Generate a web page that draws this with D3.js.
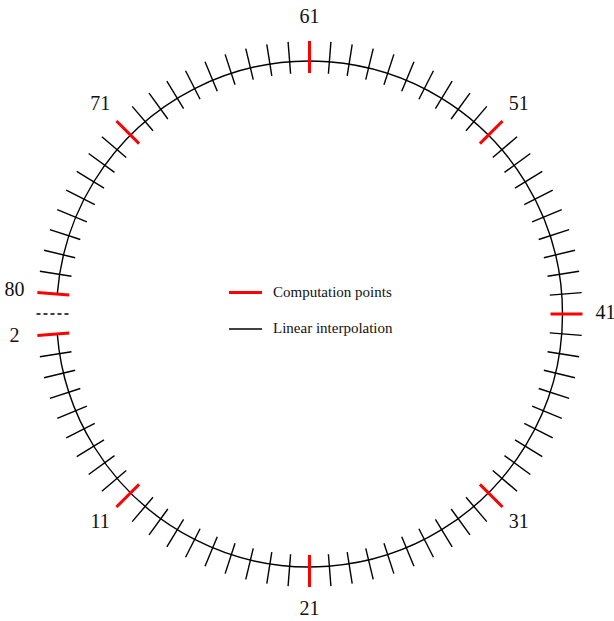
<!DOCTYPE html>
<html>
<head>
<meta charset="utf-8">
<script src="https://cdn.jsdelivr.net/npm/d3@7"></script>
<style>
  html, body { margin: 0; padding: 0; background: #fff; }
  svg { display: block; }
</style>
</head>
<body>
<svg id="chart" width="614" height="621"></svg>
<script>
// Points around the ring (point 1 is the cut, shown dashed)
const allPoints = [2,3,4,5,6,7,8,9,10,11,12,13,14,15,16,17,18,19,20,21,22,23,24,25,26,27,28,29,30,31,32,33,34,35,36,37,38,39,40,41,42,43,44,45,46,47,48,49,50,51,52,53,54,55,56,57,58,59,60,61,62,63,64,65,66,67,68,69,70,71,72,73,74,75,76,77,78,79,80];
const computationPoints = [2, 11, 21, 31, 41, 51, 61, 71, 80];
const labelPoints = [2, 11, 21, 31, 41, 51, 61, 71, 80];
const cutPoint = [1];
const legendItems = ["Computation points", "Linear interpolation"];

const svg = d3.select("#chart");
const cx = 309.5, cy = 314, R = 253;
const tickIn = 12, tickOut = 20;

// angle scale: point 1 at left, increasing counter-clockwise on screen (bottom -> right -> top)
const angle = d3.scaleLinear().domain([1, 81]).range([Math.PI, -Math.PI]);

// ring arc from point 2 to point 80 passing through bottom, right, top
const p = d3.path();
p.arc(cx, cy, R, angle(2), angle(80), true);
svg.append("path").attr("d", p.toString())
  .attr("fill", "none").attr("stroke", "#000").attr("stroke-width", 1.4);

const interp = allPoints.filter(k => !computationPoints.includes(k));

function tick(sel) {
  sel.attr("x1", k => cx + (R - tickIn) * Math.cos(angle(k)))
     .attr("y1", k => cy + (R - tickIn) * Math.sin(angle(k)))
     .attr("x2", k => cx + (R + tickOut) * Math.cos(angle(k)))
     .attr("y2", k => cy + (R + tickOut) * Math.sin(angle(k)));
}

svg.append("g").selectAll("line").data(interp).join("line")
  .call(tick).attr("stroke", "#000").attr("stroke-width", 1.4);

svg.append("g").selectAll("line").data(cutPoint).join("line")
  .call(tick).attr("stroke", "#000").attr("stroke-width", 1.4)
  .attr("stroke-dasharray", "4,3");

svg.append("g").selectAll("line").data(computationPoints).join("line")
  .call(tick).attr("stroke", "#ff0000").attr("stroke-width", 3);

const labR = 296;
svg.append("g").selectAll("text").data(labelPoints).join("text")
  .attr("x", k => cx + labR * Math.cos(angle(k)))
  .attr("y", k => cy + labR * Math.sin(angle(k)) - 2)
  .attr("text-anchor", "middle")
  .attr("dominant-baseline", "central")
  .attr("font-family", "'Liberation Serif', 'Times New Roman', serif")
  .attr("font-size", 20)
  .attr("fill", "#111")
  .text(k => k);

// legend
const legend = svg.append("g");
const legColors = ["#ff0000", "#000"];
const legWidths = [3, 1.5];
const legY = [292.5, 329];
legendItems.forEach((t, i) => {
  legend.append("line").attr("x1", 229).attr("x2", 262)
    .attr("y1", legY[i]).attr("y2", legY[i])
    .attr("stroke", legColors[i]).attr("stroke-width", legWidths[i]);
  legend.append("text").attr("x", 273).attr("y", legY[i] - 1)
    .attr("dominant-baseline", "central")
    .attr("font-family", "'Liberation Serif', 'Times New Roman', serif")
    .attr("font-size", 15).attr("fill", "#111")
    .text(t);
});
</script>
</body>
</html>
